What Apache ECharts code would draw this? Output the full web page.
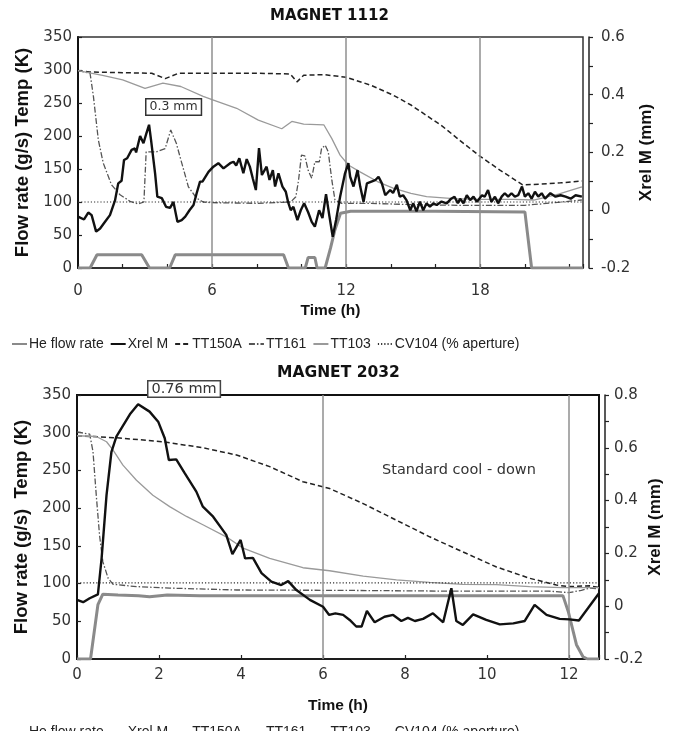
<!DOCTYPE html>
<html>
<head>
<meta charset="utf-8">
<script src="https://cdn.jsdelivr.net/npm/echarts@6.0.0/dist/echarts.min.js"></script>
<style>
html,body{margin:0;padding:0;background:#fff;}
#c{width:680px;height:731px;}
</style>
</head>
<body>
<div id="c"></div>
<script>
// ---------------- DATA (time in h, value) ----------------
// MAGNET 1112
const m1_title = 'MAGNET 1112';
const m1_xTicksLabelled = [0, 6, 12, 18];
const m1_gridHours = [6, 12, 18];
const m1_flow = [[0,0],[0.54,0],[0.85,20],[2.85,20],[3.2,0],[4.1,0],[4.35,20],[9.2,20],[9.42,0],[10.17,0],[10.3,16],[10.6,16],[10.7,0],[11.06,0],[11.3,30],[11.5,58],[11.75,83],[12.2,86],[16,86],[20.0,85],[20.3,0],[22.6,0]];
const m1_tt150a = [[0,299],[0.5,297],[2,296],[3.3,295],[3.9,287],[4.5,295],[6,295],[8,295],[9.5,294],[9.8,282],[10.1,292],[11,293],[12,289],[13.1,277],[14.1,262],[14.9,247],[15.6,231],[16.3,215],[17.1,193],[18,169],[18.9,148],[19.9,126],[20.7,127],[21.6,129],[22.55,132]];
const m1_tt161 = [[0,299],[0.54,295],[0.69,260],[0.91,194],[1.13,159],[1.5,126],[1.88,111],[2.33,101],[2.7,97],[2.95,100],[3.05,176],[3.5,176],[3.9,181],[4.15,209],[4.4,189],[4.57,168],[4.94,123],[5.3,106],[5.6,100],[6,99],[8,98],[9.52,100],[9.75,108],[9.87,133],[10.0,171],[10.15,170],[10.3,148],[10.46,136],[10.6,161],[10.8,161],[10.9,181],[11.06,186],[11.2,176],[11.36,133],[11.5,103],[11.8,98],[13,98],[15,96],[17,95],[20,95],[20.7,97],[22.55,103]];
const m1_tt103 = [[0,299],[1.1,292],[2.0,285],[3.0,272],[3.8,280],[4.6,275],[5.6,260],[6.0,255],[7.1,242],[8.07,224],[9.12,211],[9.57,222],[10.1,218],[11.0,217],[11.36,196],[11.73,171],[12.1,156],[12.6,146],[13.4,131],[14.1,121],[14.9,113],[15.6,108],[16.8,105],[18,104],[19.5,104],[20.4,103],[21.5,112],[22.55,123]];
const m1_cv104 = [[0,100],[6,100],[12,100],[18,100],[22.6,100]];
const m1_xrel = [[0,-0.022],[0.27,-0.032],[0.46,-0.008],[0.61,-0.017],[0.81,-0.074],[0.99,-0.063],[1.21,-0.04],[1.43,-0.017],[1.66,0.035],[1.8,0.093],[1.95,0.102],[2.06,0.174],[2.2,0.18],[2.4,0.209],[2.55,0.214],[2.6,0.2],[2.78,0.257],[2.93,0.232],[3.06,0.266],[3.18,0.296],[3.27,0.243],[3.45,0.128],[3.55,0.047],[3.75,0.042],[3.94,0.012],[4.12,0.008],[4.27,0.029],[4.45,-0.04],[4.64,-0.034],[4.8,-0.022],[4.99,0],[5.17,0.018],[5.31,0.059],[5.46,0.099],[5.57,0.099],[5.84,0.133],[6.06,0.151],[6.28,0.163],[6.51,0.145],[6.81,0.163],[6.96,0.168],[7.08,0.155],[7.22,0.18],[7.4,0.128],[7.55,0.177],[7.69,0.151],[7.82,0.111],[7.96,0.07],[8.1,0.215],[8.23,0.122],[8.44,0.151],[8.57,0.105],[8.72,0.139],[8.82,0.082],[8.97,0.128],[9.15,0.082],[9.3,0.064],[9.4,0.029],[9.52,0.0],[9.64,0.012],[9.82,-0.034],[9.97,0],[10.12,0.024],[10.3,-0.007],[10.46,-0.04],[10.6,-0.057],[10.79,0],[10.94,-0.027],[11.1,0.056],[11.25,-0.02],[11.4,-0.092],[11.55,-0.034],[11.73,0.047],[11.95,0.128],[12.1,0.163],[12.18,0.116],[12.33,0.082],[12.51,0.139],[12.63,0.082],[12.78,0.029],[12.93,0.093],[13.16,0.1],[13.3,0.104],[13.45,0.116],[13.6,0.093],[13.75,0.052],[13.97,0.07],[14.1,0.06],[14.27,0.088],[14.4,0.047],[14.55,0.052],[14.7,0.035],[14.87,0],[15.0,0.024],[15.15,-0.004],[15.3,0.03],[15.45,0],[15.6,0.024],[15.75,0.012],[15.9,0.024],[16.05,0.018],[16.27,0.03],[16.5,0.024],[16.7,0.04],[16.85,0.047],[17.0,0.024],[17.1,0.04],[17.25,0.024],[17.4,0.052],[17.55,0.035],[17.7,0.047],[17.85,0.029],[18.08,0.052],[18.2,0.047],[18.35,0.07],[18.5,0.029],[18.66,0.047],[18.8,0.024],[18.96,0.047],[19.1,0.059],[19.25,0.047],[19.4,0.059],[19.55,0.047],[19.7,0.052],[19.87,0.082],[20.0,0.047],[20.15,0.059],[20.3,0.04],[20.45,0.064],[20.6,0.047],[20.75,0.059],[20.9,0.04],[21.14,0.059],[21.37,0.047],[21.6,0.052],[21.82,0.047],[22.05,0.04],[22.27,0.052],[22.55,0.047]];
const m1_xMax = 22.6;
const m1_note = '0.3 mm';

// MAGNET 2032
const m2_title = 'MAGNET 2032';
const m2_gridHours = [6, 12];
const m2_flow = [[0,0],[0.33,0],[0.51,72],[0.63,86],[1.0,85],[1.5,84],[1.77,82.6],[2.2,85],[3,84],[5,84],[6,84],[8,84],[10,84],[11.85,84],[11.98,63],[12.18,19],[12.34,3],[12.45,0],[12.73,0]];
const m2_tt150a = [[0,296],[1.04,293],[2.1,288],[3.07,280],[3.89,270.5],[4.7,255],[5.51,235],[6.16,226],[6.98,206],[7.79,184],[8.6,162],[9.41,142],[10.23,122],[11.04,107],[11.69,98],[12.0,96],[12.5,97],[12.73,95]];
const m2_tt161 = [[0,301],[0.31,298],[0.39,275],[0.47,217],[0.55,164],[0.63,129],[0.76,107],[0.88,99],[1.45,96],[2.26,94],[3.89,91.5],[6.4,91],[9,90],[11.5,90],[12.0,88],[12.3,91],[12.5,94],[12.73,93]];
const m2_tt103 = [[0,296],[0.47,295],[0.72,288],[0.88,277],[1.12,257],[1.45,237],[1.85,217],[2.26,202],[2.67,189],[3.07,178],[3.64,162],[4.05,147],[4.7,133.5],[5.51,121],[6.16,117],[6.98,110],[7.79,105],[8.6,101.6],[9.41,99],[10.23,98.5],[11.04,96],[11.85,94.5],[12.73,94.5]];
const m2_cv104 = [[0,101],[6,101],[12,101],[12.73,101]];
const m2_xrel = [[0,0.024],[0.15,0.015],[0.31,0.03],[0.51,0.045],[0.6,0.181],[0.72,0.421],[0.84,0.585],[0.96,0.642],[1.13,0.686],[1.29,0.727],[1.49,0.765],[1.77,0.737],[1.98,0.699],[2.14,0.636],[2.24,0.554],[2.42,0.556],[2.63,0.503],[2.91,0.434],[3.07,0.377],[3.32,0.339],[3.64,0.27],[3.79,0.197],[3.99,0.251],[4.1,0.181],[4.29,0.183],[4.5,0.125],[4.74,0.093],[4.98,0.08],[5.15,0.095],[5.35,0.061],[5.68,0.024],[6.0,-0.002],[6.15,-0.033],[6.3,-0.027],[6.49,-0.033],[6.65,-0.052],[6.81,-0.077],[6.94,-0.077],[7.07,-0.018],[7.26,-0.061],[7.5,-0.04],[7.71,-0.033],[7.91,-0.056],[8.07,-0.044],[8.24,-0.056],[8.44,-0.048],[8.68,-0.027],[8.93,-0.061],[9.13,0.068],[9.25,-0.056],[9.41,-0.071],[9.66,-0.031],[9.98,-0.052],[10.31,-0.069],[10.64,-0.065],[10.92,-0.056],[11.16,0.005],[11.45,-0.033],[11.77,-0.048],[12.01,-0.05],[12.24,-0.054],[12.46,-0.008],[12.73,0.049]];
const m2_xMax = 12.73;
const m2_note = '0.76 mm';
const m2_text = 'Standard cool - down';

// axes
const leftMin = 0, leftMax = 350, leftStep = 50;
const m1_rMin = -0.2, m1_rMax = 0.6;
const m2_rMin = -0.2, m2_rMax = 0.8;
const rStep = 0.2;
const xStep = 2;

const names = ['He flow rate', 'Xrel M', 'TT150A', 'TT161', 'TT103', 'CV104 (% aperture)'];
const leftName1 = 'Flow rate (g/s) Temp (K)';
const leftName2 = 'Flow rate (g/s)  Temp (K)';
const rightName = 'Xrel M (mm)';
const xName = 'Time (h)';

// ---------------- STYLE ----------------
const NUM = 'DejaVu Sans';
const ARIAL = '"Liberation Sans",Arial,sans-serif';
const styles = {
  'He flow rate': {color:'#8a8a8a', width:3, type:'solid'},
  'Xrel M': {color:'#111', width:2.4, type:'solid'},
  'TT150A': {color:'#222', width:1.5, type:[5,3]},
  'TT161': {color:'#555', width:1.3, type:[6,2,1.5,2]},
  'TT103': {color:'#9a9a9a', width:1.3, type:'solid'},
  'CV104 (% aperture)': {color:'#333', width:1.2, type:[1.2,2]}
};

function mkSeries(name, data, xi, yi, extra) {
  const s = styles[name];
  return Object.assign({
    name: name, type: 'line', data: data, xAxisIndex: xi, yAxisIndex: yi,
    symbol: 'none', showSymbol: false, silent: true, animation: false,
    lineStyle: {color: s.color, width: s.width, type: s.type},
    itemStyle: {color: s.color},
    z: name === 'Xrel M' ? 5 : 3
  }, extra || {});
}
function gridMark(hours) {
  return {
    silent: true, symbol: ['none','none'], animation: false,
    label: {show: false},
    lineStyle: {color: '#8f8f8f', width: 1.5, type: 'solid'},
    data: hours.map(h => ({xAxis: h}))
  };
}

function xAxisCfg(gi, max, labelFn, margin, nameGap) {
  return {
    type: 'value', gridIndex: gi, min: 0, max: max, interval: xStep,
    name: xName, nameLocation: 'middle', nameGap: nameGap,
    nameTextStyle: {fontFamily: ARIAL, fontWeight: 'bold', fontSize: 15.5, color: '#111'},
    axisLine: {show: true, onZero: false, lineStyle: {color: '#222', width: 1.5}},
    axisTick: {show: true, inside: true, length: 4, lineStyle: {color: '#222', width: 1.2}},
    axisLabel: {fontFamily: NUM, fontSize: 15, color: '#333', margin: margin, formatter: labelFn, showMaxLabel: true},
    splitLine: {show: false}
  };
}
function leftAxisCfg(gi, name, nameGap) {
  return {
    type: 'value', gridIndex: gi, position: 'left', min: leftMin, max: leftMax, interval: leftStep,
    name: name, nameLocation: 'middle', nameGap: nameGap, nameRotate: 90,
    nameTextStyle: {fontFamily: ARIAL, fontWeight: 'bold', fontSize: 18.5, color: '#111'},
    axisLine: {show: true, lineStyle: {color: '#111', width: 2}},
    axisTick: {show: true, inside: true, length: 4, lineStyle: {color: '#222', width: 1.2}},
    axisLabel: {fontFamily: NUM, fontSize: 15, color: '#333', margin: 6},
    splitLine: {show: false}
  };
}
function rightAxisCfg(gi, min, max, nameGap, margin) {
  return {
    type: 'value', gridIndex: gi, position: 'right', offset: 6, min: min, max: max, interval: rStep,
    name: rightName, nameLocation: 'middle', nameGap: nameGap, nameRotate: 90, nameMoveOverlap: false,
    nameTextStyle: {fontFamily: ARIAL, fontWeight: 'bold', fontSize: 17, color: '#111'},
    axisLine: {show: true, lineStyle: {color: '#222', width: 1.5}},
    axisTick: {show: true, inside: false, length: 4, lineStyle: {color: '#222', width: 1.2}},
    minorTick: {show: true, splitNumber: 2, length: 4, lineStyle: {color: '#222', width: 1.2}},
    axisLabel: {fontFamily: NUM, fontSize: 15, color: '#333', margin: margin,
      formatter: v => (Math.abs(v) < 1e-9 ? '0' : String(Math.round(v * 10) / 10))},
    splitLine: {show: false}
  };
}
function legendCfg(top) {
  return {
    top: top, left: 6, orient: 'horizontal', data: names,
    itemWidth: 15, itemHeight: 8, itemGap: 6, selectedMode: false,
    itemStyle: {opacity: 0},
    textStyle: {fontFamily: ARIAL, fontSize: 14, color: '#222', padding: [0,0,0,-3]}
  };
}

const chart = echarts.init(document.getElementById('c'), null, {renderer: 'canvas'});
const option = {
  animation: false,
  backgroundColor: '#fff',
  title: [
    {text: m1_title, left: 270, top: 9, padding: 0, textStyle: {fontFamily: NUM, fontWeight: 'bold', fontSize: 15, color: '#111'}},
    {text: m2_title, left: 277, top: 365, padding: 0, textStyle: {fontFamily: NUM, fontWeight: 'bold', fontSize: 15.5, color: '#111'}}
  ],
  legend: [legendCfg(332), legendCfg(720)],
  grid: [
    {left: 78, top: 37, width: 505, height: 231, show: true, borderColor: '#333', borderWidth: 1.5, backgroundColor: 'transparent'},
    {left: 77, top: 395, width: 522, height: 264, show: true, borderColor: '#111', borderWidth: 2, backgroundColor: 'transparent'}
  ],
  xAxis: [
    xAxisCfg(0, m1_xMax, v => (m1_xTicksLabelled.indexOf(Math.round(v * 100) / 100) >= 0 ? String(v) : ''), 16, 35),
    xAxisCfg(1, m2_xMax, v => (Math.abs(v - Math.round(v)) < 1e-6 && Math.round(v) % 2 === 0 ? String(Math.round(v)) : ''), 9, 39)
  ],
  yAxis: [
    leftAxisCfg(0, leftName1, 42),
    rightAxisCfg(0, m1_rMin, m1_rMax, 49, 12),
    leftAxisCfg(1, leftName2, 45),
    rightAxisCfg(1, m2_rMin, m2_rMax, 42, 9)
  ],
  series: [
    mkSeries('He flow rate', m1_flow, 0, 0),
    mkSeries('Xrel M', m1_xrel, 0, 1),
    mkSeries('TT150A', m1_tt150a, 0, 0),
    mkSeries('TT161', m1_tt161, 0, 0),
    mkSeries('TT103', m1_tt103, 0, 0),
    mkSeries('CV104 (% aperture)', m1_cv104, 0, 0, {markLine: gridMark(m1_gridHours)}),
    mkSeries('He flow rate', m2_flow, 1, 2),
    mkSeries('Xrel M', m2_xrel, 1, 3),
    mkSeries('TT150A', m2_tt150a, 1, 2),
    mkSeries('TT161', m2_tt161, 1, 2),
    mkSeries('TT103', m2_tt103, 1, 2),
    mkSeries('CV104 (% aperture)', m2_cv104, 1, 2, {markLine: gridMark(m2_gridHours)})
  ],
  graphic: [
    {type: 'text', left: 145, top: 98, z: 10, style: {text: m1_note, fontFamily: NUM, fontSize: 12.5, fill: '#333',
      backgroundColor: '#fff', borderColor: '#333', borderWidth: 1.5, padding: [1, 3, 1, 3]}},
    {type: 'text', left: 147, top: 380, z: 10, style: {text: m2_note, fontFamily: NUM, fontSize: 14.5, fill: '#333',
      backgroundColor: '#fff', borderColor: '#444', borderWidth: 1.5, padding: [0, 3, 0, 3]}},
    {type: 'text', left: 382, top: 463, z: 10, style: {text: m2_text, fontFamily: NUM, fontSize: 14.5, fill: '#333'}}
  ]
};
chart.setOption(option);
</script>
</body>
</html>
